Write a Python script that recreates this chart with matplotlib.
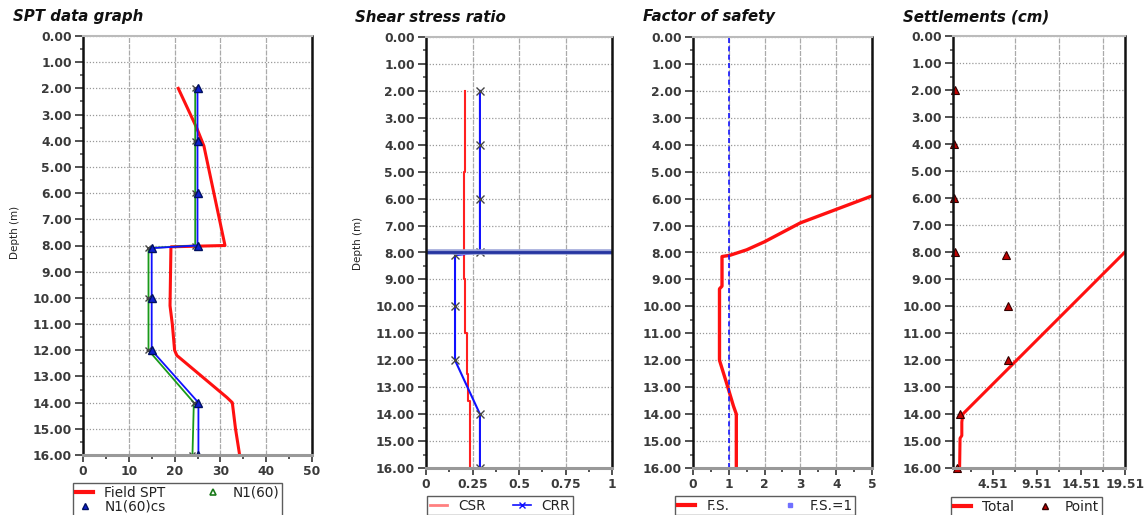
import matplotlib
matplotlib.use("Agg")
import matplotlib.pyplot as plt
from matplotlib.ticker import MultipleLocator, FixedLocator, FormatStrFormatter

# ---------------- data ----------------
# SPT panel
spt_depth = [2.0, 3.5, 4.2, 8.0, 8.05, 10.3, 11.0, 12.0, 12.2, 13.8, 14.0, 15.0, 16.0]
spt_field = [20.8, 24.8, 26.4, 31.0, 19.2, 19.0, 19.5, 20.0, 20.5, 31.4, 32.6, 33.3, 34.2]
n_depth = [2.0, 4.0, 6.0, 8.0, 8.1, 10.0, 12.0, 14.0, 16.0]
n160 = [24.5, 24.5, 24.5, 24.5, 14.3, 14.3, 14.3, 24.2, 23.9]
n160cs = [25.0, 25.0, 25.0, 25.0, 15.0, 15.0, 15.0, 25.2, 25.2]

# Shear stress ratio panel
csr_depth = [2.0, 5.0, 5.0, 9.0, 9.0, 11.0, 11.0, 12.5, 12.5, 13.5, 13.5, 16.0]
csr = [0.21, 0.21, 0.203, 0.203, 0.21, 0.21, 0.218, 0.218, 0.228, 0.228, 0.237, 0.237]
crr = [0.29, 0.29, 0.29, 0.29, 0.156, 0.156, 0.156, 0.29, 0.29]
water_table = 8.0

# Factor of safety panel
fs_depth = [5.9, 6.9, 7.6, 7.9, 8.1, 8.15, 9.25, 9.35, 12.0, 12.9, 13.3, 13.7, 14.0, 16.0]
fs = [5.0, 3.0, 2.0, 1.5, 1.04, 0.81, 0.81, 0.74, 0.74, 0.95, 1.04, 1.13, 1.21, 1.21]
fs_limit = 1.0

# Settlement panel
tot_depth = [8.0, 14.0, 14.3, 14.8, 14.9, 16.0]
tot_settle = [19.51, 1.12, 1.0, 1.0, 0.8, 0.75]
pt_depth = [2.0, 4.0, 6.0, 8.0, 8.1, 10.0, 12.0, 14.0, 16.0]
pt_settle = [0.2, 0.1, 0.1, 0.2, 6.0, 6.2, 6.2, 0.75, 0.5]
settle_ticks = [4.51, 9.51, 14.51, 19.51]
settle_grid = [7.01, 12.01, 17.01]

titles = ["SPT data graph", "Shear stress ratio", "Factor of safety", "Settlements (cm)"]

# ---------------- figure ----------------
W, H = 1145, 515
fig = plt.figure(figsize=(W / 100, H / 100), dpi=100)
fig.patch.set_facecolor("white")


def px_axes(left, right, top, bottom):
    return fig.add_axes([left / W, 1 - bottom / H, (right - left) / W, (bottom - top) / H])


TICK_KW = dict(fontsize=8.8, fontweight="bold", color="#3a3a3a")


def style_depth_axes(ax):
    ax.set_ylim(16, 0)
    ax.yaxis.set_major_locator(MultipleLocator(1))
    ax.yaxis.set_minor_locator(MultipleLocator(0.5))
    ax.yaxis.set_major_formatter(FormatStrFormatter("%.2f"))
    ax.tick_params(axis="y", which="major", length=6, width=1.2, color="#333", pad=2)
    ax.tick_params(axis="y", which="minor", length=2, width=1.2, color="#555")
    ax.tick_params(axis="x", which="major", length=5, width=1.2, color="#333", pad=2)
    ax.tick_params(axis="x", which="minor", length=3, width=1.2, color="#333")
    for lab in ax.get_yticklabels() + ax.get_xticklabels():
        lab.set_fontsize(TICK_KW["fontsize"])
        lab.set_fontweight(TICK_KW["fontweight"])
        lab.set_color(TICK_KW["color"])
    ax.grid(axis="y", which="major", linestyle=(0, (1, 1.5)), color="#999", lw=0.9)
    ax.grid(axis="x", which="major", linestyle=(0, (4, 1)), color="#aaa", lw=0.9)
    ax.spines["left"].set_linewidth(1.8)
    ax.spines["left"].set_color("#111")
    ax.spines["right"].set_linewidth(1.8)
    ax.spines["right"].set_color("#111")
    ax.spines["top"].set_linewidth(1.5)
    ax.spines["top"].set_color("#bbb")
    ax.spines["bottom"].set_linewidth(2.2)
    ax.spines["bottom"].set_color("#999")
    ax.set_axisbelow(True)


def title(x, y, text):
    fig.text(x / W, 1 - y / H, text, fontsize=10.8, fontweight="bold", fontstyle="italic",
             ha="left", va="center", color="#111")


def legend(handles, labels, x, y, ncol, colsp=2.0):
    lg = fig.legend(handles, labels, loc="upper left", bbox_to_anchor=(x / W, 1 - y / H),
                    ncol=ncol, fontsize=9.8, frameon=True, fancybox=False, borderpad=0.2,
                    handlelength=1.3, handletextpad=0.8, columnspacing=colsp, labelspacing=0.0,
                    borderaxespad=0)
    lg.get_frame().set_edgecolor("#333")
    lg.get_frame().set_linewidth(1.0)
    for t in lg.get_texts():
        t.set_color("#222")
    return lg


# ---- panel 1: SPT ----
ax1 = px_axes(83, 312, 36, 455)
ax1.set_xlim(0, 50)
ax1.xaxis.set_major_locator(MultipleLocator(10))
ax1.xaxis.set_minor_locator(MultipleLocator(5))
l_field, = ax1.plot(spt_field, spt_depth, color="#ff1010", lw=2.2)
l_n60, = ax1.plot(n160, n_depth, color="#1a9a1a", lw=1.3, marker="x", ms=5,
                  mec="#444", mew=1.0)
l_ncs, = ax1.plot(n160cs, n_depth, color="#1010ff", lw=1.3, marker="^", ms=6,
                  mfc="#1020d0", mec="#001060")
style_depth_axes(ax1)
ax1.set_ylabel("Depth (m)", fontsize=7.5, color="#222")
ax1.yaxis.set_label_coords(-0.275, 0.53)
title(13, 17, titles[0])
h_field = plt.Line2D([], [], color="#ff1010", lw=3)
h_n60 = plt.Line2D([], [], lw=0, marker="^", ms=5, mfc="none", mec="#1a7a1a", mew=1.2)
h_ncs = plt.Line2D([], [], lw=0, marker="^", ms=4, mfc="#1020d0", mec="#001060")
legend([h_field, h_ncs, h_n60], ["Field SPT", "N1(60)cs", "N1(60)"], 73, 483, 2, 2.8)

# ---- panel 2: shear stress ratio ----
ax2 = px_axes(426, 612, 37, 468)
ax2.set_xlim(0, 1)
ax2.xaxis.set_major_locator(FixedLocator([0, 0.25, 0.5, 0.75, 1]))
ax2.xaxis.set_minor_locator(MultipleLocator(0.125))
ax2.xaxis.set_major_formatter(plt.FuncFormatter(lambda v, p: f"{v:g}"))
l_csr, = ax2.plot(csr, csr_depth, color="#ff2020", lw=1.5)
l_crr, = ax2.plot(crr, n_depth, color="#1010ff", lw=1.5, marker="x", ms=6,
                  mec="#444", mew=1.0)
ax2.axhline(water_table, color="#9aa3d8", lw=4.0, zorder=2)
ax2.axhline(water_table, color="#2535a0", lw=2.0, zorder=2)
style_depth_axes(ax2)
ax2.set_ylabel("Depth (m)", fontsize=7.5, color="#222")
ax2.yaxis.set_label_coords(-0.339, 0.52)
title(355, 17, titles[1])
h_csr = plt.Line2D([], [], color="#ff8080", lw=2)
h_crr = plt.Line2D([], [], color="#1010ff", lw=1.2, marker="x", ms=5, mec="#1010ff")
legend([h_csr, h_crr], ["CSR", "CRR"], 427, 496, 2, 2.0)

# ---- panel 3: factor of safety ----
ax3 = px_axes(693, 872, 37, 468)
ax3.set_xlim(0, 5)
ax3.xaxis.set_major_locator(MultipleLocator(1))
ax3.xaxis.set_minor_locator(MultipleLocator(0.5))
l_fs, = ax3.plot(fs, fs_depth, color="#ff1010", lw=2.4)
l_fs1 = ax3.axvline(fs_limit, color="#1515ff", lw=1.2, linestyle=(0, (3, 2)))
style_depth_axes(ax3)
title(643, 17, titles[2])
h_fs = plt.Line2D([], [], color="#ff1010", lw=3)
h_fs1 = plt.Line2D([], [], color="#7070ff", lw=0, marker="s", ms=2.5)
legend([h_fs, h_fs1], ["F.S.", "F.S.=1"], 675, 496, 2, 3.8)

# ---- panel 4: settlements ----
ax4 = px_axes(953, 1125, 36, 468)
ax4.set_xlim(0, 19.51)
ax4.xaxis.set_major_locator(FixedLocator(settle_ticks))
ax4.xaxis.set_minor_locator(FixedLocator([2.01] + settle_grid))
ax4.xaxis.set_major_formatter(FormatStrFormatter("%.2f"))
l_tot, = ax4.plot(tot_settle, tot_depth, color="#ff1010", lw=2.2)
l_pt, = ax4.plot(pt_settle, pt_depth, linestyle="none", marker="^", ms=6,
                 mfc="#c00000", mec="#300000", mew=0.8, clip_on=False)
style_depth_axes(ax4)
ax4.grid(axis="x", which="major", visible=False)
for g in settle_grid:
    ax4.axvline(g, linestyle=(0, (4, 1)), color="#aaa", lw=0.9, zorder=0)
title(903, 17, titles[3])
h_tot = plt.Line2D([], [], color="#ff1010", lw=3)
h_pt = plt.Line2D([], [], lw=0, marker="^", ms=5, mfc="#c00000", mec="#300000")
legend([h_tot, h_pt], ["Total", "Point"], 951, 497, 2, 1.6)

fig.savefig("out.png", dpi=100, facecolor="white")
